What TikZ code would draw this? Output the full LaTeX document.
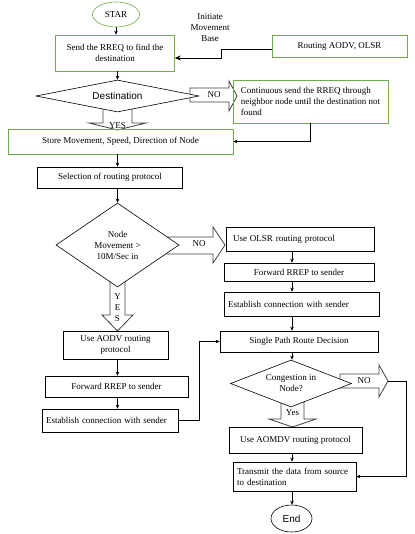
\documentclass[tikz,border=0pt]{standalone}
\usepackage{fontspec}
\setmainfont{Liberation Serif}
\newfontfamily\sansf{Liberation Sans}
\usetikzlibrary{shapes.geometric,arrows.meta,backgrounds}
\definecolor{grn}{RGB}{112,173,71}
\newcommand\fsz{\fontsize{9}{11}\selectfont}
\tikzset{
  box/.style={draw, rectangle, inner sep=0pt, font=\fsz, line width=0.6pt},
  gbox/.style={box, draw=grn},
  ltext/.style={align=left},
  dia/.style={draw, diamond, inner sep=0pt, fill=white, line width=0.6pt},
  arr/.style={-{Stealth[length=4pt,width=3.5pt]}, line width=0.6pt},
  blk/.style={draw=black!75, fill=white, line width=0.8pt},
  lbl/.style={font=\fsz, inner sep=0pt}
}
\begin{document}
\begin{tikzpicture}[x=1pt,y=-1pt]
\useasboundingbox (0,0) rectangle (414,534);
\coordinate (colL) at (117.5,0);
\coordinate (colR) at (292,0);
% nodes
\node[draw=grn, ellipse, minimum width=47pt, minimum height=25pt, inner sep=0pt, font=\fsz, line width=0.6pt] (start) at (116,14.5) {STAR};
\node[gbox, minimum width=119pt, minimum height=36pt, align=center] (send) at (115,53) {Send the RREQ to find the\\destination};
\node[lbl, align=center] (init) at (210,28) {Initiate\\Movement\\Base};
\node[gbox, minimum width=135pt, minimum height=22pt] (routing) at (339.5,46) {Routing AODV, OLSR};
\node[dia, minimum width=163pt, minimum height=32pt, shape aspect=5, font=\sansf\fontsize{10}{12}\selectfont] (dest) at (117.5,96) {Destination};
\node[gbox, minimum width=155pt, minimum height=43pt, ltext] (cont) at (310.5,101.5) {Continuous send the RREQ through\\neighbor node until the destination not\\found};
\node[gbox, minimum width=225pt, minimum height=25pt] (store) at (120.5,141.5) {Store Movement, Speed, Direction of Node};
\node[box, minimum width=145pt, minimum height=21pt] (sel) at (110,177.5) {Selection of routing protocol};
\node[dia, minimum width=123pt, minimum height=84pt, shape aspect=1.5, font=\fsz, align=center] (nodeD) at (117.5,245) {Node\\Movement >\\10M/Sec in};
\node[box, minimum width=148pt, minimum height=24pt, text width=134pt, ltext, inner xsep=7pt] (olsr) at (300,239) {Use OLSR routing protocol};
\node[box, minimum width=150pt, minimum height=18pt] (fwd2) at (299,272) {Forward RREP to sender};
\node[box, minimum width=155pt, minimum height=24pt, text width=147pt, ltext, inner xsep=4pt] (est2) at (301.5,304) {Establish connection with sender};
\node[box, minimum width=105pt, minimum height=28pt, align=center] (aodv) at (115.5,345) {Use AODV routing\\protocol};
\node[box, minimum width=143pt, minimum height=21pt] (fwd1) at (116.5,386.5) {Forward RREP to sender};
\node[box, minimum width=136pt, minimum height=23pt, text width=128pt, ltext, inner xsep=4pt] (est1) at (110,420.5) {Establish connection with sender};
\node[box, minimum width=158pt, minimum height=21pt] (single) at (299,341.5) {Single Path Route Decision};
\node[dia, minimum width=121pt, minimum height=47pt, shape aspect=2.5, font=\fsz, align=center] (cong) at (291,383.5) {Congestion in\\Node?};
\node[box, minimum width=133pt, minimum height=26pt] (aomdv) at (295.5,440) {Use AOMDV routing protocol};
\node[box, minimum width=123pt, minimum height=29pt, text width=115pt, ltext, inner xsep=4pt] (trans) at (294.5,476.5) {Transmit the data from source\\to destination};
\node[draw, ellipse, minimum width=41pt, minimum height=27pt, inner sep=0pt, font=\sansf\fontsize{10}{12}\selectfont, line width=0.6pt] (endn) at (291.5,518.5) {End};
% block arrows (behind)
\begin{pgfonlayer}{background}
\draw[blk] (190,88) -- (229,88) -- (229,81) -- (237,96) -- (229,111) -- (229,102) -- (190,102) -- cycle;
\draw[blk] (103,100) -- (103,123) -- (89,123) -- (117.5,130) -- (146,123) -- (132,123) -- (132,100) -- cycle;
\draw[blk] (165,237) -- (213,237) -- (213,227) -- (225,245) -- (213,263) -- (213,254) -- (165,254) -- cycle;
\draw[blk] (110,270) -- (110,315) -- (102,315) -- (117.5,331) -- (133,315) -- (125,315) -- (125,270) -- cycle;
\draw[blk] (340,374) -- (379,374) -- (379,365) -- (388,381) -- (379,397) -- (379,388) -- (340,388) -- cycle;
\draw[blk] (281,395) -- (281,419) -- (269,419) -- (292.5,427) -- (316,419) -- (304,419) -- (304,395) -- cycle;
\end{pgfonlayer}
\coordinate (noTip) at (388,381);
\node[lbl] (no1) at (214,95) {NO};
\node[lbl] (yes1) at (117.5,126) {YES};
\node[lbl] (no2) at (199,244) {NO};
\node[lbl] (y2) at (117.5,297) {Y};
\node[lbl] (e2) at (117.5,308) {E};
\node[lbl] (s2) at (117.5,319) {S};
\node[lbl] (no3) at (364,381) {NO};
\node[lbl] (yes3) at (292.5,413) {Yes};
% connectors
\draw[arr] (start.south) -- (start.south |- send.north);
\draw[-{Stealth[length=6pt,width=5pt]}, line width=0.6pt] ([yshift=-3pt]routing.west) -- ++(-50,0) |- ([yshift=-5pt]send.east);
\draw[arr] (send.south -| colL) -- (dest.north -| colL);
\draw[arr] (cont.south) |- (store.east);
\draw[arr] (store.south -| colL) -- (sel.north -| colL);
\draw[arr] (sel.south -| colL) -- (nodeD.north);
\draw[arr] (olsr.south -| colR) -- (fwd2.north -| colR);
\draw[arr] (fwd2.south -| colR) -- (est2.north -| colR);
\draw[arr] (est2.south -| colR) -- (single.north -| colR);
\draw[arr] (aodv.south -| colL) -- (fwd1.north -| colL);
\draw[arr] (fwd1.south -| colL) -- (est1.north -| colL);
\draw[arr] (est1.east) -- ++(21,0) |- (single.west);
\draw[arr] (single.south -| colR) -- (cong.north -| colR);
\draw[arr] (noTip) -- ++(18,0) |- (trans.east);
\draw[arr] (aomdv.south -| colR) -- (trans.north -| colR);
\draw[arr] (trans.south -| colR) -- (endn.north -| colR);
\end{tikzpicture}
\end{document}
